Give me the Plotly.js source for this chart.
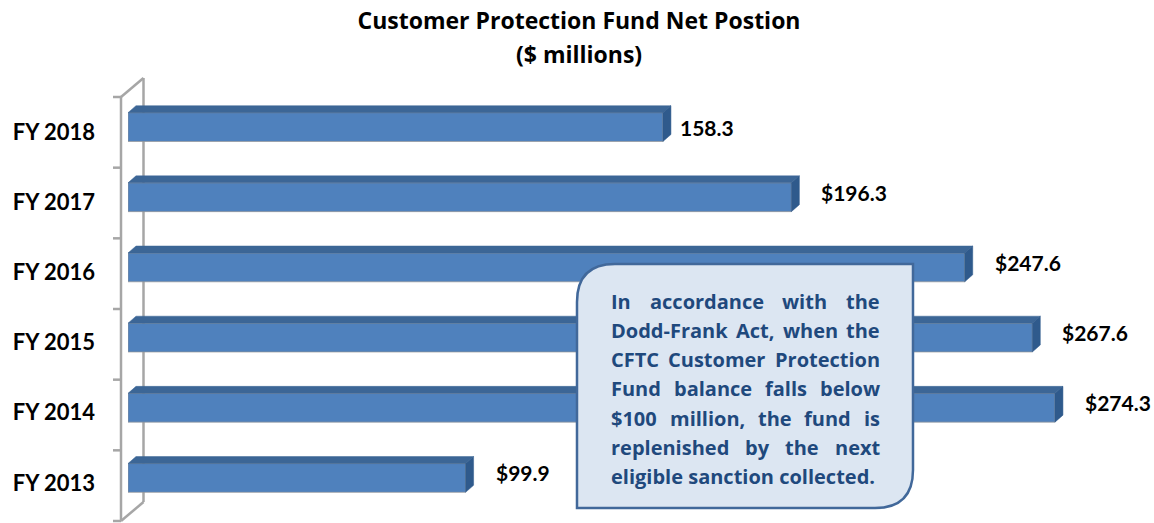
<!DOCTYPE html>
<html>
<head>
<meta charset="utf-8">
<script src="https://cdn.plot.ly/plotly-3.0.1.min.js"></script>
<style>html,body{margin:0;padding:0;background:#fff;}#chart{width:1154px;height:523px;}</style>
</head>
<body>
<div id="chart"></div>
<script>
// ---- data ----
const categories = ['FY 2013', 'FY 2014', 'FY 2015', 'FY 2016', 'FY 2017', 'FY 2018'];
const values = [99.9, 274.3, 267.6, 247.6, 196.3, 158.3];
const valueLabels = ['$99.9', '$274.3', '$267.6', '$247.6', '$196.3', '158.3'];
const titleLine1 = 'Customer Protection Fund Net Postion';
const titleLine2 = '($ millions)';
const noteLines = [
  'In accordance with the',
  'Dodd-Frank Act, when the',
  'CFTC Customer Protection',
  'Fund balance falls below',
  '$100 million, the fund is',
  'replenished by the next',
  'eligible sanction collected.'
];

// ---- geometry / style ----
const W = 1154, H = 523;
const M = {l: 128, r: 46, t: 92, b: 10};
const XMAX = 290;
const plotW = W - M.l - M.r, plotH = H - M.t - M.b;
const pxPerX = plotW / XMAX, pxPerY = plotH / 6;
const px2x = p => (p - M.l) / plotW;          // pixel -> paper x
const py2y = p => (H - M.b - p) / plotH;      // pixel -> paper y
const FONT = 'Lato, "Open Sans", sans-serif';
const FONT2 = '"Open Sans", Lato, sans-serif';
const HW = 0.205;                      // half bar thickness (axis units)
const DX = 8 / pxPerX, DY = 7 / pxPerY; // 3D depth offsets
const FRONT = '#4f81bd', TOP = '#3c6696', SIDE = '#2f5a8c';

const idx = categories.map((c, i) => i);
const traces = [];
traces.push({
  type: 'bar', orientation: 'h', x: values, y: idx, width: HW * 2,
  marker: {color: FRONT, line: {color: 'rgba(150,150,150,0.7)', width: 1}},
  hoverinfo: 'skip', showlegend: false
});
values.forEach((v, i) => {
  traces.push({
    type: 'scatter', mode: 'lines', fill: 'toself', fillcolor: TOP,
    line: {color: TOP, width: 0.5}, hoverinfo: 'skip', showlegend: false,
    x: [0, v, v + DX, DX, 0], y: [i + HW, i + HW, i + HW + DY, i + HW + DY, i + HW]
  });
  traces.push({
    type: 'scatter', mode: 'lines', fill: 'toself', fillcolor: SIDE,
    line: {color: SIDE, width: 0.5}, hoverinfo: 'skip', showlegend: false,
    x: [v, v, v + DX, v + DX, v], y: [i - HW, i + HW, i + HW + DY, i - HW + DY, i - HW]
  });
});

// ---- wall (3D axis) ----
const GRAY = '#a6a6a6';
const shapes = [];
const line = (x0, y0, x1, y1, layer) => shapes.push({
  type: 'line', xref: 'paper', yref: 'paper', layer: layer || 'above',
  x0: px2x(x0), y0: py2y(y0), x1: px2x(x1), y1: py2y(y1),
  line: {color: GRAY, width: 2.5}
});
line(143.5, 78, 143.5, 502, 'below');
line(121, 97, 143.5, 78);
line(121, 521, 143.5, 502);
line(121, 97, 121, 521);
for (let k = 0; k <= 6; k++) {
  const yy = 97 + k * (424 / 6);
  line(113, yy, 121, yy);
}

// ---- callout box ----
const bx0 = 577, bx1 = 913, by0 = 264, by1 = 508, rr = 38;
const P = (x, y) => px2x(x).toFixed(5) + ',' + py2y(y).toFixed(5);
shapes.push({
  type: 'path', xref: 'paper', yref: 'paper', layer: 'above',
  path: 'M' + P(bx0, by0 + rr) + ' Q' + P(bx0, by0) + ' ' + P(bx0 + rr, by0) +
        ' L' + P(bx1, by0) + ' L' + P(bx1, by1 - rr) +
        ' Q' + P(bx1, by1) + ' ' + P(bx1 - rr, by1) +
        ' L' + P(bx0, by1) + ' Z',
  fillcolor: '#dce6f2', line: {color: '#41689a', width: 2.5}
});

// ---- annotations ----
const annotations = [];
annotations.push({
  xref: 'paper', yref: 'paper', x: px2x(579), y: py2y(54), xanchor: 'center', yanchor: 'middle',
  text: titleLine2, showarrow: false, font: {family: FONT2, size: 23, weight: 700, color: '#000'}
});
values.forEach((v, i) => {
  const hasDollar = valueLabels[i].startsWith('$');
  annotations.push({
    x: v, y: i, xref: 'x', yref: 'y', xanchor: 'left', yanchor: 'middle',
    xshift: hasDollar ? 29 : 16, yshift: hasDollar ? 5 : 0,
    text: valueLabels[i], showarrow: false, borderpad: 0,
    font: {family: FONT, size: 21, weight: 700, color: '#000'}
  });
});

// justified note text
const noteFont = {family: FONT2, size: 20, weight: 700, color: '#1f497d'};
const cv = document.createElement('canvas').getContext('2d');
cv.font = 'bold 20px "Open Sans"';
const tx0 = 610, tx1 = 879, ty0 = 301, tdy = 29.3;
noteLines.forEach((ln, k) => {
  const yy = py2y(ty0 + k * tdy);
  if (k === noteLines.length - 1) {
    annotations.push({xref: 'paper', yref: 'paper', x: px2x(tx0), y: yy, xanchor: 'left', yanchor: 'middle',
      text: ln, showarrow: false, borderpad: 0, font: noteFont});
    return;
  }
  const words = ln.split(' ');
  const ws = words.map(w => cv.measureText(w).width);
  const total = ws.reduce((a, b) => a + b, 0);
  const gap = (tx1 - tx0 - total) / (words.length - 1);
  let cx = tx0;
  words.forEach((w, j) => {
    annotations.push({xref: 'paper', yref: 'paper', x: px2x(cx), y: yy, xanchor: 'left', yanchor: 'middle',
      text: w, showarrow: false, borderpad: 0, font: noteFont});
    cx += ws[j] + gap;
  });
});

const layout = {
  width: W, height: H, margin: M,
  paper_bgcolor: '#fff', plot_bgcolor: 'rgba(0,0,0,0)',
  title: {text: titleLine1, x: 579 / W, xref: 'container', xanchor: 'center',
          y: 1 - 21 / H, yref: 'container', yanchor: 'middle',
          font: {family: FONT2, size: 23, weight: 700, color: '#000'}},
  xaxis: {range: [0, XMAX], visible: false, fixedrange: true},
  yaxis: {range: [-0.5, 5.5], tickvals: idx, ticktext: categories, showgrid: false,
          zeroline: false, showline: false, ticks: '', ticklabelstandoff: 32, ticklabelshift: 5,
          tickfont: {family: FONT, size: 22, weight: 700, color: '#000'}, fixedrange: true},
  shapes: shapes, annotations: annotations, showlegend: false, bargap: 0
};

Plotly.newPlot('chart', traces, layout, {displayModeBar: false, staticPlot: true});
</script>
</body>
</html>
